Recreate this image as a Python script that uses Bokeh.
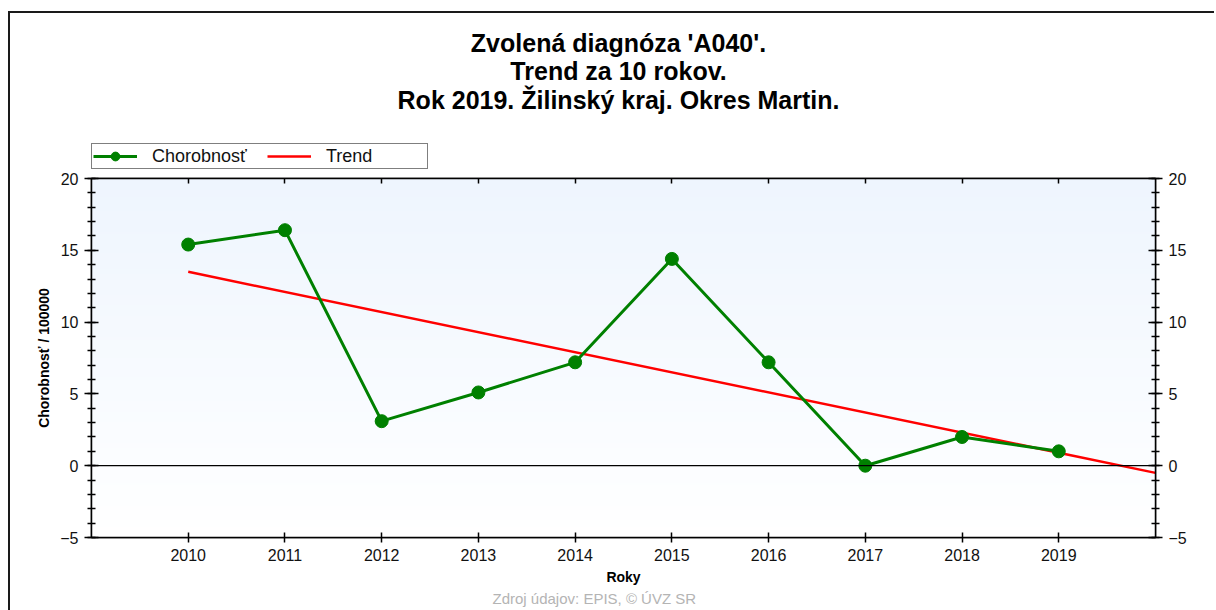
import numpy as np
from bokeh.plotting import figure
from bokeh.layouts import column
from bokeh.models import (LinearAxis, SingleIntervalTicker, FixedTicker, Range1d,
                          Span, Label, Legend, LegendItem, Title, CustomJSTickFormatter)
from bokeh.embed import file_html
from bokeh.resources import INLINE

# ---- data ----
years = [2010, 2011, 2012, 2013, 2014, 2015, 2016, 2017, 2018, 2019]
chorobnost = [15.4, 16.4, 3.1, 5.1, 7.2, 14.4, 7.2, 0.0, 2.0, 1.0]
trend_years = [2010, 2020]
trend_values = [13.5, -0.5]
x_ticks = years
title_lines = ["Zvolená diagnóza 'A040'.", "Trend za 10 rokov.",
               "Rok 2019. Žilinský kraj. Okres Martin."]
legend_labels = ["Chorobnosť", "Trend"]
x_label = "Roky"
y_label = "Chorobnosť / 100000"
footer = "Zdroj údajov: EPIS, © ÚVZ SR"
x_min, x_max = 2009, 2020
y_min, y_max = -5, 20

FONT = "Liberation Sans"
GREEN = "#008000"
RED = "#ff0000"
W = 1204

# ---------------- header (titles + legend) ----------------
h = figure(width=W, height=157, output_backend="svg", toolbar_location=None,
           title=None, x_axis_location=None, y_axis_location=None,
           x_range=Range1d(0, 1), y_range=Range1d(0, 1),
           min_border=0, min_border_left=0, min_border_right=0,
           min_border_top=0, min_border_bottom=0)
h.grid.grid_line_color = None
h.outline_line_color = None
h.background_fill_color = "white"
h.border_fill_color = "white"

for line, sy in zip(title_lines, [128, 100, 71]):
    h.add_layout(Label(x=527, y=sy, x_units="screen", y_units="screen", text=line,
                       text_align="center", text_baseline="middle",
                       text_font=FONT, text_font_size="25px",
                       text_font_style="bold", text_color="black"))

# legend proxies: same styles as the chart, their data lie outside this header's range
lg_line = h.line(x=years, y=chorobnost, line_color=GREEN, line_width=3)
lg_pts = h.scatter(x=years, y=chorobnost, size=11, color=GREEN)
lg_trend = h.line(x=trend_years, y=trend_values, line_color=RED, line_width=2.5)
legend = Legend(items=[LegendItem(label=legend_labels[0], renderers=[lg_line, lg_pts]),
                       LegendItem(label=legend_labels[1], renderers=[lg_trend])],
                location=(0, 1), orientation="horizontal", margin=0, padding=1,
                spacing=15, glyph_width=44, glyph_height=22, label_standoff=15,
                label_width=100, label_height=18,
                label_text_font=FONT, label_text_font_size="18px",
                label_text_color="#111111", label_text_baseline="middle",
                border_line_color="black", border_line_width=1.5,
                background_fill_color="white", background_fill_alpha=1.0)
h.add_layout(legend)

# ---------------- main chart ----------------
p = figure(width=W, height=440, output_backend="svg", toolbar_location=None,
           title=None, x_range=Range1d(x_min, x_max), y_range=Range1d(y_min, y_max),
           x_axis_location=None, y_axis_location=None,
           min_border_left=81, min_border_right=59, min_border_top=8,
           min_border_bottom=73)
p.grid.grid_line_color = None
p.outline_line_color = "black"
p.outline_line_width = 1.5
p.background_fill_color = "white"
p.border_fill_color = "white"

# gradient background of plot area
n = 256
t = np.linspace(0.0, 1.0, n)[:, None]
top = np.array([238, 245, 254], dtype=float)
bot = np.array([255, 255, 255], dtype=float)
img = np.zeros((n, 2, 4), dtype=np.uint8)
for k in range(3):
    img[:, :, k] = np.round(bot[k] + (top[k] - bot[k]) * t).astype(np.uint8)
img[:, :, 3] = 255
p.image_rgba(image=[img.view(dtype=np.uint32).reshape((n, 2))], x=x_min, y=y_min,
             dw=x_max - x_min, dh=y_max - y_min)

p.add_layout(Span(location=0, dimension="width", line_color="black", line_width=1.2))

p.line(trend_years, trend_values, line_color=RED, line_width=2.5)
p.line(years, chorobnost, line_color=GREEN, line_width=3)
p.scatter(years, chorobnost, size=13, color=GREEN)


def style_axis(ax):
    ax.axis_line_color = "black"
    ax.axis_line_width = 1.5
    ax.major_tick_line_color = "black"
    ax.major_tick_line_width = 1.5
    ax.minor_tick_line_color = "black"
    ax.minor_tick_line_width = 1.5
    ax.major_label_text_font = FONT
    ax.major_label_text_font_size = "16px"
    ax.major_label_text_color = "#111111"
    ax.axis_label_text_font = FONT
    ax.axis_label_text_font_size = "14px"
    ax.axis_label_text_font_style = "bold"
    ax.axis_label_text_color = "black"


for side in ("left", "right"):
    ax = LinearAxis(ticker=SingleIntervalTicker(interval=5, num_minor_ticks=5))
    style_axis(ax)
    ax.major_tick_in = 7
    ax.major_tick_out = 7
    ax.minor_tick_in = 4
    ax.minor_tick_out = 4
    ax.major_label_standoff = 6
    if side == "left":
        ax.axis_label = y_label
        ax.axis_label_standoff = 5
    p.add_layout(ax, side)

xb = LinearAxis(ticker=FixedTicker(ticks=x_ticks, minor_ticks=[]), axis_label=x_label)
style_axis(xb)
xb.major_tick_in = 5
xb.major_tick_out = 5
xb.major_label_standoff = 6
xb.axis_label_standoff = 5
p.add_layout(xb, "below")

p.add_layout(Title(text=footer, align="left", offset=401, text_font=FONT,
                   text_font_size="15px", text_font_style="normal",
                   text_color="#b4b4b4", standoff=0), "below")

xt = LinearAxis(ticker=FixedTicker(ticks=x_ticks, minor_ticks=[]),
                formatter=CustomJSTickFormatter(code="return ''"))
style_axis(xt)
xt.major_label_text_font_size = "1px"
xt.major_label_standoff = 0
xt.major_tick_in = 5
xt.major_tick_out = 0
p.add_layout(xt, "above")

page = column(h, p, spacing=0)
page.margin = (11, 0, 0, 8)
page.styles = {"border-left": "2px solid #1a1a1a", "border-top": "2px solid #1a1a1a"}

open("out.html", "w").write(file_html(page, INLINE))
